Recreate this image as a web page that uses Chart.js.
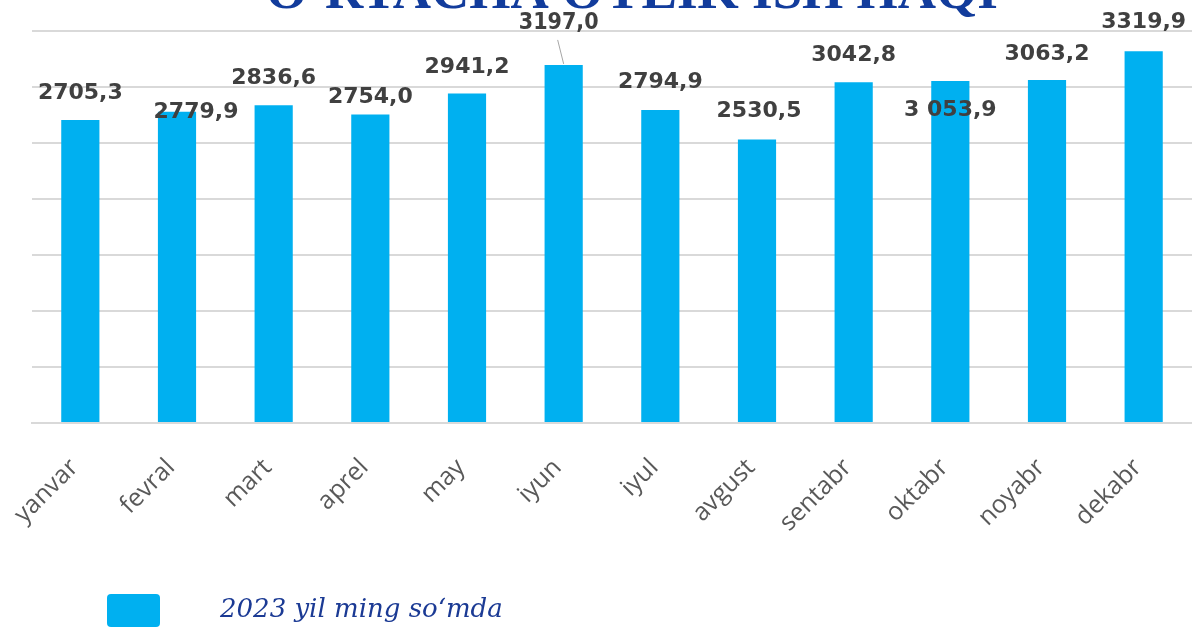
<!DOCTYPE html>
<html>
<head>
<meta charset="utf-8">
<script src="https://cdn.jsdelivr.net/npm/chart.js@4/dist/chart.umd.min.js"></script>
<style>
  body { margin: 0; background: #fff; }
  #wrap { position: relative; width: 1192px; height: 627px; overflow: hidden; }
  #legend { position: absolute; left: 107px; top: 594px; display: flex; align-items: center; }
  #legend .box { width: 53px; height: 33px; background: #00b0f0; border-radius: 4px; }
  #legend .txt { margin-left: 60px; margin-top: -6px; font: italic 26px "DejaVu Serif", serif; color: #1b3a94; white-space: nowrap; }
</style>
</head>
<body>
<div id="wrap">
  <canvas id="salaryChart" width="1192" height="627"></canvas>
  <div id="legend"><div class="box"></div><div class="txt">2023 yil ming so‘mda</div></div>
</div>
<script>
const titleText = 'O‘RTACHA OYLIK ISH HAQI';
const seriesName = '2023 yil ming so‘mda';
const months = ['yanvar', 'fevral', 'mart', 'aprel', 'may', 'iyun', 'iyul', 'avgust', 'sentabr', 'oktabr', 'noyabr', 'dekabr'];
const salaries = [2705.3, 2779.9, 2836.6, 2754.0, 2941.2, 3197.0, 2794.9, 2530.5, 3042.8, 3053.9, 3063.2, 3319.9];
const valueLabels = ['2705,3', '2779,9', '2836,6', '2754,0', '2941,2', '3197,0', '2794,9', '2530,5', '3042,8', '3 053,9', '3063,2', '3319,9'];
const yMin = 0;
const yMax = 3500;
const yStep = 500;

// where each value label sits, relative to the top centre of its bar
const labelShift = [[0, -27], [19, 1], [0, -27], [0, -17], [0, -26], [-5, -42],
                    [0, -28], [2, -28], [0, -27], [0, 29], [0, -26], [0, -29]];

const labelsPlugin = {
    id: 'valueLabels',
    afterDatasetsDraw(chart) {
        const ctx = chart.ctx;
        const meta = chart.getDatasetMeta(0);
        ctx.save();
        ctx.textAlign = 'center';
        ctx.textBaseline = 'middle';
        ctx.fillStyle = '#404040';
        meta.data.forEach((bar, i) => {
            const [dx, dy] = labelShift[i];
            const x = bar.x + dx;
            const y = bar.y + dy;
            if (i === 5) {
                // the one label Excel moved by hand, with its leader line
                ctx.font = 'bold 23px "DejaVu Sans Condensed", "DejaVu Sans", sans-serif';
                ctx.strokeStyle = '#a6a6a6';
                ctx.lineWidth = 1;
                ctx.beginPath();
                ctx.moveTo(bar.x - 6, bar.y - 25);
                ctx.lineTo(bar.x, bar.y - 1);
                ctx.stroke();
            } else {
                ctx.font = 'bold 22px "DejaVu Sans", sans-serif';
            }
            ctx.fillText(valueLabels[i], x, y);
        });
        ctx.restore();
    },
    afterDraw(chart) {
        // title is cut off by the top edge in the original
        const ctx = chart.ctx;
        ctx.save();
        ctx.font = 'bold 53px "Liberation Serif", "Times New Roman", serif';
        ctx.fillStyle = '#123c9c';
        ctx.textAlign = 'center';
        ctx.textBaseline = 'alphabetic';
        ctx.fillText(titleText, 632, 8);
        ctx.restore();
    }
};

const ctx = document.getElementById('salaryChart').getContext('2d');
const salaryChart = new Chart(ctx, {
    type: 'bar',
    data: {
        labels: months,
        datasets: [{
            label: seriesName,
            data: salaries,
            backgroundColor: '#00b0f0',
            borderWidth: 0,
            categoryPercentage: 1,
            barPercentage: 0.395
        }]
    },
    options: {
        responsive: false,
        animation: false,
        layout: { padding: { left: 32, top: 31, right: 0, bottom: 0 } },
        plugins: {
            legend: { display: false },
            tooltip: { enabled: false },
            title: { display: false }
        },
        scales: {
            x: {
                grid: { display: false },
                border: { display: true, color: '#d9d9d9', width: 2 },
                ticks: {
                    color: '#595959',
                    font: { family: '"Open Sans", sans-serif', size: 25 },
                    minRotation: 45,
                    maxRotation: 45,
                    padding: 22,
                    labelOffset: -6
                },
                afterFit(scale) { scale.height = 204; }
            },
            y: {
                min: yMin,
                max: yMax,
                ticks: { display: false, stepSize: yStep },
                border: { display: false },
                grid: { color: '#d9d9d9', lineWidth: 2, drawTicks: false },
                afterFit(scale) { scale.width = 0; }
            }
        }
    },
    plugins: [labelsPlugin]
});
</script>
</body>
</html>
